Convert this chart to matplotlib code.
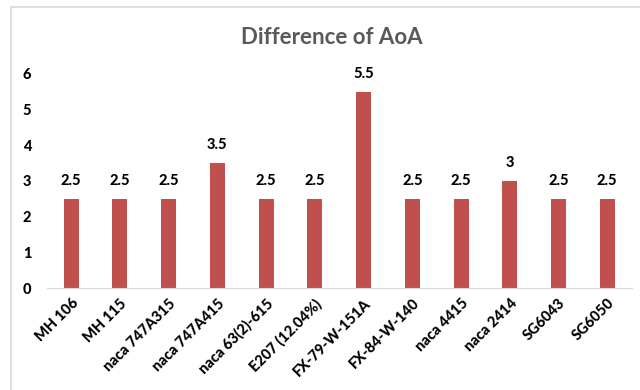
import matplotlib
matplotlib.use("Agg")
import matplotlib.pyplot as plt
from matplotlib.patches import Rectangle

airfoils = ["MH 106", "MH 115", "naca 747A315", "naca 747A415", "naca 63(2)-615",
            "E207 (12.04%)", "FX-79-W-151A", "FX-84-W-140", "naca 4415",
            "naca 2414", "SG6043", "SG6050"]
aoa_diff = [2.5, 2.5, 2.5, 3.5, 2.5, 2.5, 5.5, 2.5, 2.5, 3, 2.5, 2.5]
yticks = [0, 1, 2, 3, 4, 5, 6]

plt.rcParams['font.family'] = ['Lato', 'DejaVu Sans']

fig = plt.figure(figsize=(6.4, 3.9), dpi=100)
# chart border (cropped on right/bottom like the reference)
fig.patches.append(Rectangle((11 / 640, -0.1), 1.0, 1 - 7 / 390 + 0.1,
                             transform=fig.transFigure, fill=False,
                             edgecolor="#D9D9D9", linewidth=1.2))

ax = fig.add_axes([0.073, 0.2615, 0.914, 0.549])
x = range(len(airfoils))
bars = ax.bar(x, aoa_diff, width=0.31, color="#C0504D")

for b, v in zip(bars, aoa_diff):
    ax.annotate(f"{v:g}", (b.get_x() + b.get_width() / 2, v),
                xytext=(0, 8), textcoords="offset points",
                ha="center", va="bottom", fontsize=10.5, fontweight="black")

ax.set_xlim(-0.5, len(airfoils) - 0.5)
ax.set_ylim(0, 6)
ax.set_yticks(yticks)
ax.set_yticklabels([str(t) for t in yticks], fontsize=10.5, fontweight="black")
ax.set_xticks(list(x))
ax.set_xticklabels(airfoils, rotation=45, ha="right", rotation_mode="anchor",
                   fontsize=10.5, fontweight="black")
ax.tick_params(axis="both", length=0, pad=6)
ax.tick_params(axis="y", pad=11)

for side in ["top", "right", "left"]:
    ax.spines[side].set_visible(False)
ax.spines["bottom"].set_color("#D9D9D9")

fig.text(0.519, 0.905, "Difference of AoA", ha="center", va="center",
         fontsize=16, fontweight="bold", color="#595959")

fig.savefig("out.png", dpi=100)
